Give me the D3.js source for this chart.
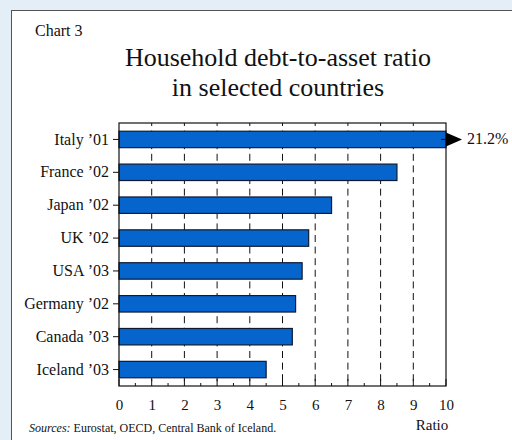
<!DOCTYPE html>
<html>
<head>
<meta charset="utf-8">
<script src="https://cdn.jsdelivr.net/npm/d3@7/dist/d3.min.js"></script>
<style>
  html, body { margin: 0; padding: 0; background: #e4eef6; }
  svg { display: block; }
  text { font-family: "Liberation Serif", "Times New Roman", serif; fill: #111; }
</style>
</head>
<body>
<svg id="chart" width="512" height="440"></svg>
<script>
// ---- data ----
const categories = ["Italy \u201901", "France \u201902", "Japan \u201902", "UK \u201902", "USA \u201903", "Germany \u201902", "Canada \u201903", "Iceland \u201903"];
const values = [21.2, 8.5, 6.5, 5.8, 5.6, 5.4, 5.3, 4.5];
const xTicks = [0, 1, 2, 3, 4, 5, 6, 7, 8, 9, 10];
const minorTicks = [0.5, 1.5, 2.5, 3.5, 4.5, 5.5, 6.5, 7.5, 8.5, 9.5];
const titleLines = ["Household debt-to-asset ratio", "in selected countries"];
const chartLabel = "Chart 3";
const axisTitle = "Ratio";
const overflowLabel = "21.2%";
const sourcesLabel = "Sources:";
const sourcesText = " Eurostat, OECD, Central Bank of Iceland.";

const svg = d3.select("#chart");

// panel
svg.append("rect").attr("x", 11.5).attr("y", 10.5).attr("width", 530).attr("height", 460)
  .attr("fill", "#fff").attr("stroke", "#555").attr("stroke-width", 1);

const L = 119, R = 446, T = 123, B = 386;
const x = d3.scaleLinear().domain([0, 10]).range([L, R]);
const y = d3.scaleBand().domain(categories).range([T, B]).paddingInner(0.5).paddingOuter(0.25);

// texts
svg.append("text").attr("x", 35).attr("y", 36).attr("font-size", 16).text(chartLabel);
svg.selectAll("text.title").data(titleLines).enter().append("text")
  .attr("class", "title").attr("x", 278).attr("y", (d, i) => 66 + i * 30)
  .attr("text-anchor", "middle").attr("font-size", 26).text(d => d);

// gridlines (dashed)
svg.append("g").selectAll("line").data(xTicks.filter(d => d > 0 && d < 10)).enter().append("line")
  .attr("x1", d => x(d)).attr("x2", d => x(d)).attr("y1", T).attr("y2", B)
  .attr("stroke", "#111").attr("stroke-width", 1).attr("stroke-dasharray", "7,4.6").attr("stroke-dashoffset", 4);

// bars
const bars = svg.append("g");
bars.selectAll("rect").data(categories).enter().append("rect")
  .attr("x", x(0)).attr("y", d => y(d))
  .attr("width", (d, i) => x(Math.min(values[i], 10)) - x(0))
  .attr("height", y.bandwidth())
  .attr("fill", "#0565cc").attr("stroke", "#0d1a33").attr("stroke-width", 1.2);

// frame
svg.append("rect").attr("x", L).attr("y", T).attr("width", R - L).attr("height", B - T)
  .attr("fill", "none").attr("stroke", "#111").attr("stroke-width", 1.2);

// bottom axis
const xAxis = d3.axisBottom(x).tickValues(xTicks).tickSize(0).tickPadding(13).tickFormat(d3.format("d"));
const gx = svg.append("g").attr("transform", `translate(0,${B})`).call(xAxis);
gx.select(".domain").remove();
gx.selectAll("text").attr("font-size", 15).attr("fill", "#111");
svg.append("g").selectAll("line").data(xTicks).enter().append("line")
  .attr("x1", d => x(d)).attr("x2", d => x(d)).attr("y1", B).attr("y2", B - 7)
  .attr("stroke", "#111").attr("stroke-width", 1);
svg.append("g").selectAll("line").data(minorTicks).enter().append("line")
  .attr("x1", d => x(d)).attr("x2", d => x(d)).attr("y1", B).attr("y2", B - 3)
  .attr("stroke", "#111").attr("stroke-width", 1);

// left axis
const yAxis = d3.axisLeft(y).tickSize(6).tickPadding(4);
const gy = svg.append("g").attr("transform", `translate(${L},0)`).call(yAxis);
gy.select(".domain").remove();
gy.selectAll("line").attr("stroke", "#111");
gy.selectAll("text").attr("font-size", 16).attr("fill", "#111");

// overflow arrow for Italy
const yc = y(categories[0]) + y.bandwidth() / 2;
svg.append("line").attr("x1", x(9.85)).attr("x2", x(10)).attr("y1", yc).attr("y2", yc)
  .attr("stroke", "#111").attr("stroke-width", 1.2);
svg.append("path")
  .attr("d", `M${x(10)},${yc - 7}L${x(10) + 16},${yc}L${x(10)},${yc + 7}Z`)
  .attr("fill", "#000");
svg.append("text").attr("x", 467).attr("y", yc + 5).attr("font-size", 16).text(overflowLabel);

// axis title
svg.append("text").attr("x", 432).attr("y", 430).attr("text-anchor", "middle").attr("font-size", 15).text(axisTitle);

// sources
const src = svg.append("text").attr("x", 29).attr("y", 432).attr("font-size", 12);
src.append("tspan").attr("font-style", "italic").text(sourcesLabel);
src.append("tspan").text(sourcesText);
</script>
</body>
</html>
